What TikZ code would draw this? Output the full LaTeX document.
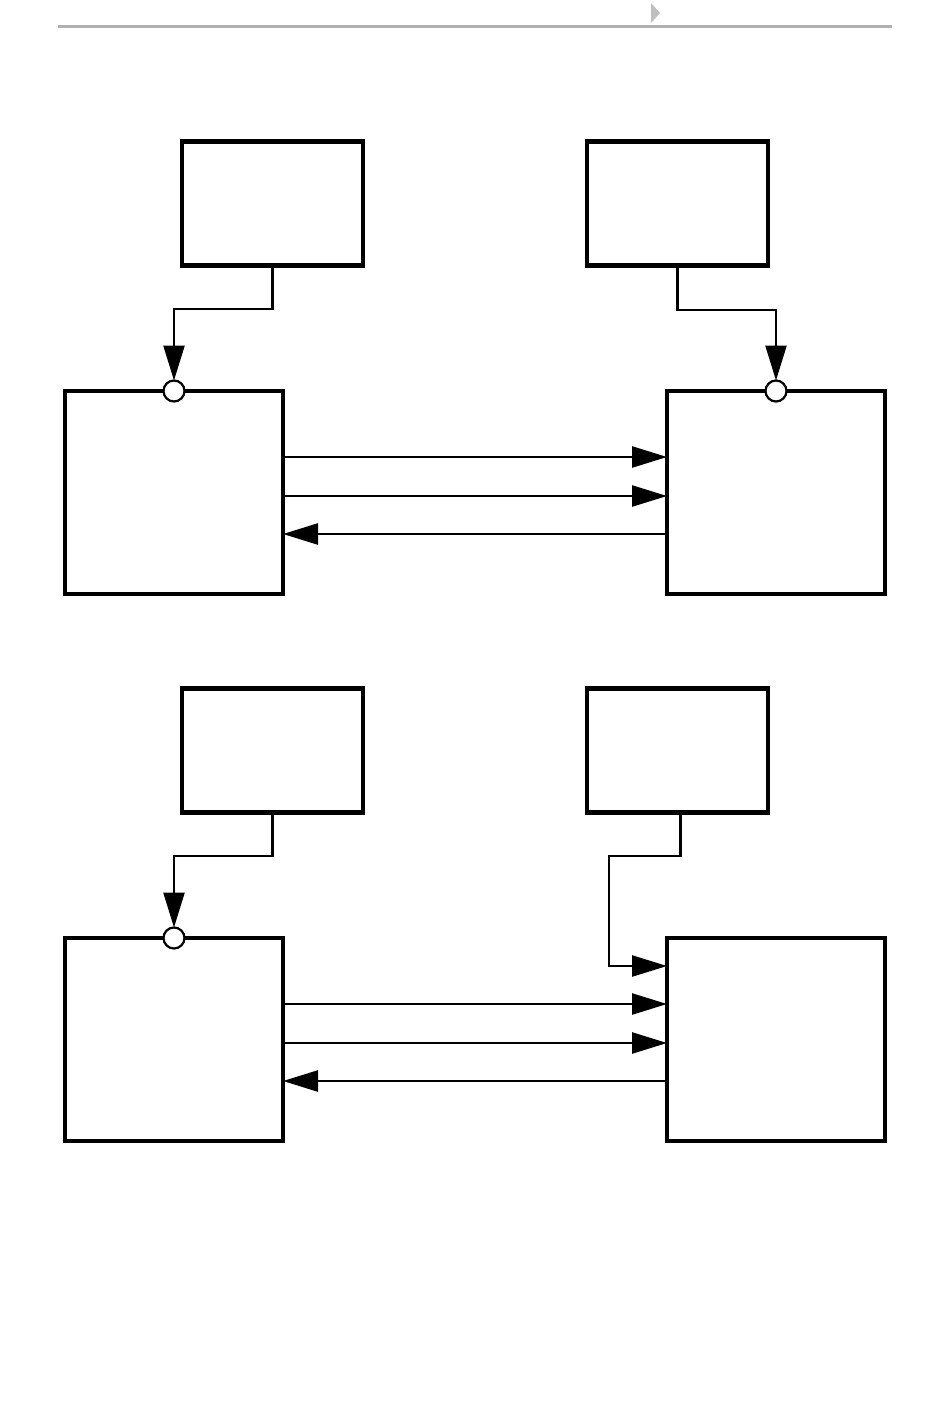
\documentclass[tikz,border=0pt]{standalone}
\usetikzlibrary{arrows.meta,calc}
\begin{document}
\begin{tikzpicture}[x=1pt,y=-1pt,
  bigbox/.style={draw,line width=4.5pt,rectangle,minimum width=218pt,minimum height=203pt,inner sep=0pt,outer sep=0pt},
  smallbox/.style={draw,line width=4.5pt,rectangle,minimum width=181pt,minimum height=124pt,inner sep=0pt,outer sep=0pt},
  port/.style={draw,fill=white,circle,line width=2.2pt,minimum size=21pt,inner sep=0pt,outer sep=0pt},
  conn/.style={line width=2.5pt},
  tip/.style={-{Triangle[length=35pt,width=21pt]}},
  hdr/.style={line width=3pt,draw=black!31}]
\useasboundingbox (0,0) rectangle (950,1401);
% header
\draw[hdr] (58,26.5) coordinate (h1) -- (892,26.5) coordinate (h2);
\fill[black!25] (651,3) -- (660,13) -- (651,23) -- cycle;
% top diagram
\node[smallbox] (tl) at (272.5,203.5) {};
\node[smallbox] (tr) at (677.5,203.5) {};
\node[bigbox] (L1) at (174,492.5) {};
\node[bigbox] (R1) at (776,492.5) {};
\node[port] (cl1) at (174,391) {};
\node[port] (cr1) at (776,391) {};
\draw[conn,tip] (tl.south) -- ++(0,43.5) -| (cl1);
\draw[conn,tip] (tr.south) -- ++(0,44.5) -| (cr1);
\draw[conn,tip] ($(L1.north east)+(0,66)$) -- ($(R1.north west)+(0,66)$);
\draw[conn,tip] ($(L1.north east)+(0,105)$) -- ($(R1.north west)+(0,105)$);
\draw[conn,tip] ($(R1.north west)+(0,143)$) -- ($(L1.north east)+(0,143)$);
% bottom diagram
\node[smallbox] (bl) at (272.5,750.5) {};
\node[smallbox] (br) at (677.5,750.5) {};
\node[bigbox] (L2) at (174,1039.5) {};
\node[bigbox] (R2) at (776,1039.5) {};
\node[port] (cl2) at (174,938) {};
\draw[conn,tip] (bl.south) -- ++(0,43.5) -| (cl2);
\draw[conn,tip] ($(br.south)+(3,0)$) -- ++(0,43.5) -- ++(-71.5,0) |- ($(R2.north west)+(0,28)$);
\draw[conn,tip] ($(L2.north east)+(0,66)$) -- ($(R2.north west)+(0,66)$);
\draw[conn,tip] ($(L2.north east)+(0,105)$) -- ($(R2.north west)+(0,105)$);
\draw[conn,tip] ($(R2.north west)+(0,143)$) -- ($(L2.north east)+(0,143)$);
\end{tikzpicture}
\end{document}
